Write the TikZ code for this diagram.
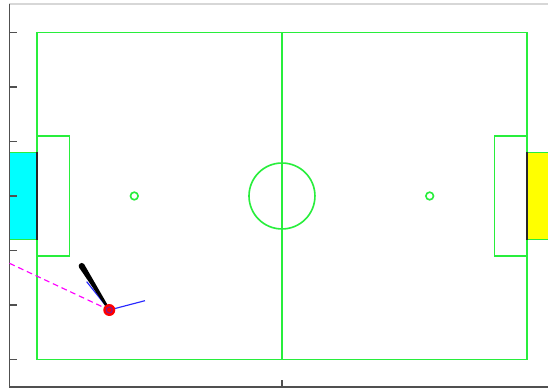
\documentclass[tikz,border=0pt]{standalone}
\usetikzlibrary{calc}
\definecolor{fieldgreen}{RGB}{40,238,60}
\definecolor{axisgray}{RGB}{80,80,80}
\definecolor{lightgray2}{RGB}{215,215,215}
\definecolor{goalcyan}{RGB}{0,255,255}
\definecolor{goalyellow}{RGB}{255,255,0}
\definecolor{raymag}{RGB}{255,0,255}
\definecolor{robred}{RGB}{255,0,0}
\definecolor{robblue}{RGB}{40,40,255}
\begin{document}
\begin{tikzpicture}[x=1cm,y=1cm,
  fieldline/.style={draw=fieldgreen,line width=0.85pt},
  axisline/.style={draw=axisgray,line width=1pt},
  ticksty/.style={draw=axisgray,line width=0.8pt}]
\useasboundingbox (-5.174,-3.541) rectangle (4.881,3.596);
\fill[white] (-5.174,-3.541) rectangle (4.881,3.596);
% top light frame line
\draw[lightgray2,line width=0.8pt] (-5,3.52) -- (4.881,3.52);
% goals
\fill[goalcyan] (-5,-0.8) rectangle (-4.5,0.8);
\draw[fieldline] (-5,0.8) -- (-4.5,0.8) (-5,-0.8) -- (-4.5,-0.8);
\fill[goalyellow] (4.5,-0.8) rectangle (4.881,0.8);
\draw[fieldline] (4.881,0.8) -- (4.5,0.8) (4.881,-0.8) -- (4.5,-0.8);
% field
\draw[fieldline] (-4.5,-3) rectangle (4.5,3);
\draw[fieldline] (0,-3) -- (0,3);
\draw[fieldline] (0,0) circle (0.605);
\draw[fieldline] (-4.5,-1.1) rectangle (-3.9,1.1);
\draw[fieldline] (4.5,-1.1) rectangle (3.9,1.1);
\draw[fieldline] (-2.71,0) circle (0.07);
\draw[fieldline] (2.71,0) circle (0.07);
% goal lines (dark)
\draw[black!85,line width=1pt] (-4.5,-0.8) -- (-4.5,0.8);
\draw[black!85,line width=1pt] (4.5,-0.8) -- (4.5,0.8);
% axes
\draw[axisline] (-5,3.52) -- (-5,-3.51) -- (4.881,-3.51);
\foreach \yy in {-3,...,3} \draw[ticksty] (-5,\yy) -- (-4.87,\yy);
\draw[ticksty] (0,-3.51) -- (0,-3.38);
% robot
\coordinate (robot) at (-3.169,-2.092);
\coordinate (tip) at (-3.675,-1.284);
\coordinate (look) at (-2.514,-1.921);
\coordinate (look2) at (-3.584,-1.572);
\coordinate (ray) at (-5.0,-1.235);
\draw[raymag,dash pattern=on 3pt off 2pt,line width=0.6pt] (ray) -- (robot);
\draw[robblue,line width=0.6pt] (robot) -- (look);
\draw[robblue,line width=0.6pt] (robot) -- (look2);
\fill[black] ($(tip)!0.055cm!90:(robot)$) -- ($(tip)!0.055cm!-90:(robot)$) -- ($(robot)!0.02cm!90:(tip)$) -- ($(robot)!0.02cm!-90:(tip)$) -- cycle;
\fill[black] (tip) circle (0.055);
\fill[robred] (robot) circle (0.11);
\draw[robblue!60!robred,line width=0.5pt] (robot) circle (0.055);
\end{tikzpicture}
\end{document}
